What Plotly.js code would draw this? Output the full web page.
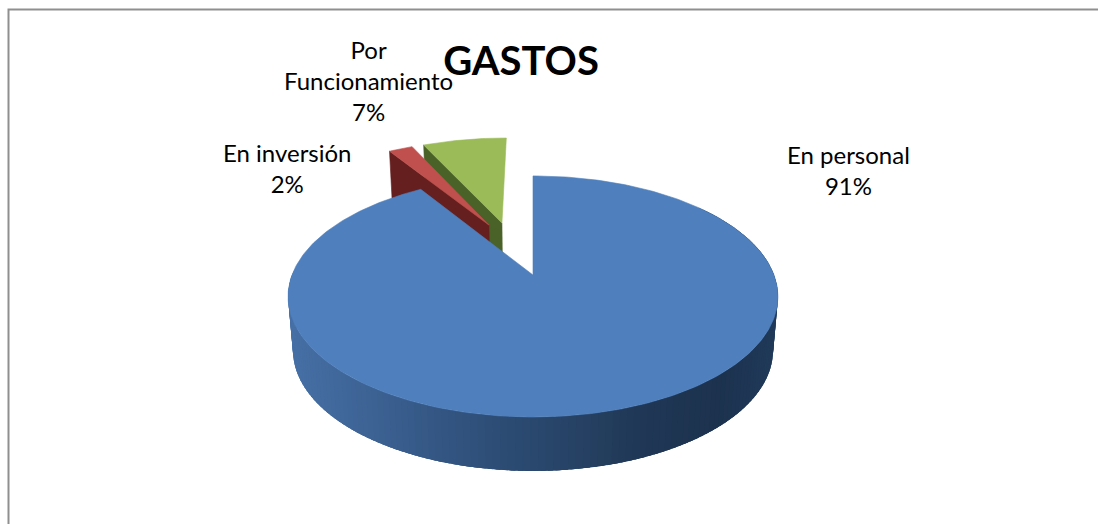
<!DOCTYPE html>
<html><head><meta charset="utf-8">
<script src="https://cdn.plot.ly/plotly-3.0.1.min.js"></script>
<style>html,body{margin:0;padding:0;background:#fff}#c{width:1098px;height:524px}</style>
</head><body><div id="c"></div>
<script>
// ---- data ----
const chartTitle = "GASTOS";
const categories = ["En personal", "En inversión", "Por Funcionamiento"];
const displayLabels = ["En personal", "En inversión", "Por<br>Funcionamiento"];
const percentValues = [91, 2, 7];
const topColors = ["#4f7fbc", "#c0504d", "#9bbb59"];
const wallColors = ["#2f4f76", "#651f1f", "#4a6128"];

// ---- view of the tilted disc (unit-disc offsets of the exploded slices) ----
const pullOffsets = [[0, 0], [-0.198, -0.463], [-0.14, -0.484]];
const cx = 533, cy = 275, A = 241, B = 116.7, P = 0.178, DEPTH = 54, SHRINK = 0.98;
const rad = d => d * Math.PI / 180;
function project(u, v, low) {
  const w = 1 - P * v;
  let x = cx + A * u / w, y = cy + B * v / w;
  if (low) { x = cx + (x - cx) * SHRINK; y += DEPTH; }
  return [x, y];
}
const total = percentValues.reduce((a, b) => a + b, 0);
let start = 0;
const slices = percentValues.map((val, i) => {
  const a0 = start, a1 = start + val / total * 360; start = a1;
  return { i, a0, a1, ox: pullOffsets[i][0], oy: pullOffsets[i][1] };
});
const rim = (s, a, low) => project(s.ox + Math.sin(rad(a)), s.oy - Math.cos(rad(a)), low);
const apex = (s, low) => project(s.ox, s.oy, low);

function poly(points, color, name, lineWidth) {
  return { type: "scatter", mode: "lines", fill: "toself", fillcolor: color,
    x: points.map(p => p[0]), y: points.map(p => p[1]),
    line: { color: color, width: lineWidth === undefined ? 0.6 : lineWidth }, showlegend: false,
    hoverinfo: name ? "text" : "skip", text: name || "" };
}
function topFace(s) {
  const pts = [apex(s)];
  for (let a = s.a0; a < s.a1; a += 1) pts.push(rim(s, a));
  pts.push(rim(s, s.a1)); pts.push(apex(s));
  return poly(pts, topColors[s.i], categories[s.i] + ": " + percentValues[s.i] + "%");
}
// blue side wall shading, by position round the rim
const shadeStops = [[288, [70, 112, 166]], [360, [62, 100, 150]], [450, [50, 84, 128]], [533, [42, 72, 110]], [640, [32, 56, 86]], [720, [28, 50, 78]], [778, [32, 58, 90]]];
function shade(x) {
  for (let k = 1; k < shadeStops.length; k++) {
    if (x <= shadeStops[k][0]) {
      const [x0, c0] = shadeStops[k - 1], [x1, c1] = shadeStops[k];
      const t = Math.max(0, (x - x0) / (x1 - x0));
      return "rgb(" + c0.map((c, j) => Math.round(c + (c1[j] - c) * t)).join(",") + ")";
    }
  }
  return "rgb(32,58,90)";
}
const traces = [];
// green then red: cut wall, then top
[slices[2], slices[1]].forEach(s => {
  traces.push(poly([apex(s), rim(s, s.a0), rim(s, s.a0, true), apex(s, true), apex(s)], wallColors[s.i]));
  traces.push(topFace(s));
});
// blue rim wall: overlapping strips, each covering most of the previous one's seam
const b = slices[0];
const strips = [];
for (let a = 50; a < 270; a += 1.5) {
  const pts = [];
  for (let k = 0; k <= 4; k++) pts.push(rim(b, a + k));
  for (let k = 4; k >= 0; k--) pts.push(rim(b, a + k, true));
  pts.push(pts[0]);
  strips.push(poly(pts, shade(rim(b, a + 0.75)[0]), null, 0));
}
traces.push(...strips);
traces.push(topFace(b));

const labelAnchors = [[848, 170], [287, 168], [368, 80]];
const annotations = slices.map(s => ({
  x: labelAnchors[s.i][0], y: labelAnchors[s.i][1], xref: "x", yref: "y",
  text: displayLabels[s.i] + "<br>" + percentValues[s.i] + "%",
  showarrow: false, align: "center",
  font: { family: "Lato", size: 24, color: "#000" }
}));

Plotly.newPlot("c", traces, {
  width: 1098, height: 524, margin: { l: 0, r: 0, t: 0, b: 0 },
  paper_bgcolor: "#fff", plot_bgcolor: "#fff", showlegend: false, hovermode: "closest",
  title: { text: "<b>" + chartTitle + "</b>", x: 521 / 1098, xanchor: "center", y: 1 - 61 / 524, yanchor: "middle",
    font: { family: "Lato", size: 40, color: "#000" } },
  xaxis: { range: [0, 1098], visible: false, fixedrange: true },
  yaxis: { range: [524, 0], visible: false, fixedrange: true },
  annotations: annotations,
  shapes: [{ type: "path", xref: "x", yref: "y", path: "M8.5,530 L8.5,9.5 L1100,9.5", line: { color: "#8f8f8f", width: 2 }, layer: "below" }]
}, { displayModeBar: false });
</script></body></html>
